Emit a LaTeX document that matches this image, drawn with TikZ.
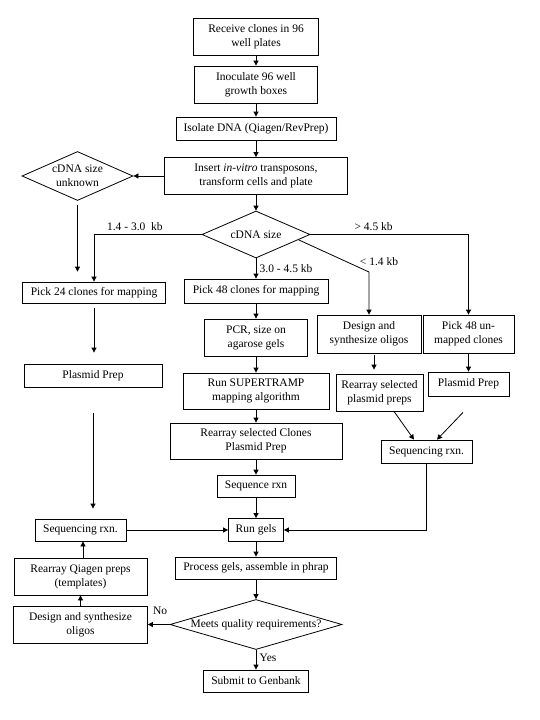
\documentclass[tikz,border=0pt]{standalone}
\usepackage{fontspec}
\setmainfont{Liberation Serif}
\usetikzlibrary{arrows.meta,shapes.geometric,calc}

\begin{document}
\begin{tikzpicture}[->, >={Triangle[length=5pt,width=5pt]}, x=1pt, y=-1pt, line width=0.8pt,
  main node/.style={draw, align=center, inner sep=1pt},
  cond node/.style={diamond, draw, align=center, inner sep=0pt}]
    \tikzstyle{every node}=[font=\fontsize{11.5}{14}\selectfont]
    \useasboundingbox (0,0) rectangle (540,720);

      \node[main node, minimum width=125pt, minimum height=37pt] (1) at (256,36.5) {Receive clones in 96\\well plates};
      \node[main node, minimum width=123pt, minimum height=37pt] (2) at (256,84.5) {Inoculate 96 well\\growth boxes};
      \node[main node, minimum width=160pt, minimum height=23pt] (3) at (256,128.5) {Isolate DNA (Qiagen/RevPrep)};
      \node[main node, minimum width=183pt, minimum height=37pt] (4) at (256,176) {Insert \textit{in-vitro} transposons,\\transform cells and plate};
      \node[cond node, aspect=2.27, minimum width=111pt, minimum height=49pt] (5) at (77.5,176) {cDNA size\\unknown};
      \node[cond node, aspect=2.3, minimum width=108pt, minimum height=47pt] (6) at (256,234.5) {cDNA size};
      \node[main node, minimum width=143pt, minimum height=21pt] (7) at (94,292.5) {Pick 24 clones for mapping};
      \node[main node, minimum width=144pt, minimum height=24pt] (8) at (256,291) {Pick 48 clones for mapping};
      \node[main node, minimum width=104pt, minimum height=38pt] (9) at (369,334) {Design and\\synthesize oligos};
      \node[main node, minimum width=91pt, minimum height=38pt] (10) at (468.5,334) {Pick 48 un-\\mapped clones};
      \node[main node, minimum width=103pt, minimum height=37pt] (11) at (256,337.5) {PCR, size on\\agarose gels};
      \node[main node, minimum width=138pt, minimum height=23pt] (12) at (93,375.5) {Plasmid Prep};
      \node[main node, minimum width=146pt, minimum height=36pt] (13) at (256,391) {Run SUPERTRAMP\\mapping algorithm};
      \node[main node, minimum width=87pt, minimum height=37pt] (14) at (379.5,392.5) {Rearray selected\\plasmid preps};
      \node[main node, minimum width=81pt, minimum height=24pt] (15) at (468.5,384) {Plasmid Prep};
      \node[main node, minimum width=172pt, minimum height=36pt] (16) at (256,441) {Rearray selected Clones\\Plasmid Prep};
      \node[main node, minimum width=91pt, minimum height=23pt] (17) at (426.5,451.5) {Sequencing rxn.};
      \node[main node, minimum width=78pt, minimum height=22pt] (18) at (256,486) {Sequence rxn};
      \node[main node, minimum width=55pt, minimum height=23pt] (19) at (256,530) {Run gels};
      \node[main node, minimum width=91pt, minimum height=22pt] (20) at (80.5,530) {Sequencing rxn.};
      \node[main node, minimum width=161pt, minimum height=22pt] (21) at (256,568) {Process gels, assemble in phrap};
      \node[main node, minimum width=133pt, minimum height=37pt] (22) at (80.5,576.5) {Rearray Qiagen preps\\(templates)};
      \node[cond node, aspect=3.44, minimum width=172pt, minimum height=50pt] (23) at (256,624.5) {Meets quality requirements?};
      \node[main node, minimum width=134pt, minimum height=37pt] (24) at (80.5,624.5) {Design and synthesize\\oligos};
      \node[main node, minimum width=105pt, minimum height=22pt] (25) at (256,681) {Submit to Genbank};
      \coordinate (b9) at (369,272);

      \path
        (1) edge (2)
        (2) edge (3)
        (3) edge (4)
        (4) edge (6)
            edge (5)
        (6) edge node [right] {3.0 - 4.5 kb} (8)
        (8) edge (11)
        (11) edge (13)
        (13) edge (16)
        (16) edge (18)
        (18) edge (19)
        (20) edge (19)
        (19) edge (21)
        (21) edge (23)
        (23) edge node [right, pos=0.4] {Yes} (25)
             edge node [above=6pt, pos=0.44] {No} (24)
        (24) edge (22)
        (10) edge (15);

      \draw (6) -| (7) node [above, pos=0.31] {1.4 - 3.0\ \ kb};
      \draw (6) -| (10) node [above, pos=0.2] {> 4.5 kb};
      \draw ($(6.east)!0.22!(6.south)$) -- (b9) node [anchor=south west, xshift=-12.8pt, yshift=2.2pt] {< 1.4 kb} -- (9);
      \draw[shorten <=4pt, shorten >=10pt] (5) -- (5 |- 7.north);
      \draw[shorten <=5pt, shorten >=11pt] (7) -- (7 |- 12.north);
      \draw[shorten <=26pt, shorten >=10pt] (12) -- (12 |- 20.north);
      \draw ([xshift=2.5pt]22.north) -- ([xshift=2.5pt]20.south);
      \draw[shorten <=2pt, shorten >=4pt] ([xshift=5pt]9.south) -- ([xshift=-5.5pt]14.north);
      \draw ([xshift=14.5pt]14.south) -- ([xshift=-12.5pt]17.north);
      \draw ([xshift=-5.5pt, yshift=-16pt]15.south) -- ([xshift=10.5pt]17.north);
      \draw (17) |- (19);

\end{tikzpicture}
\end{document}
